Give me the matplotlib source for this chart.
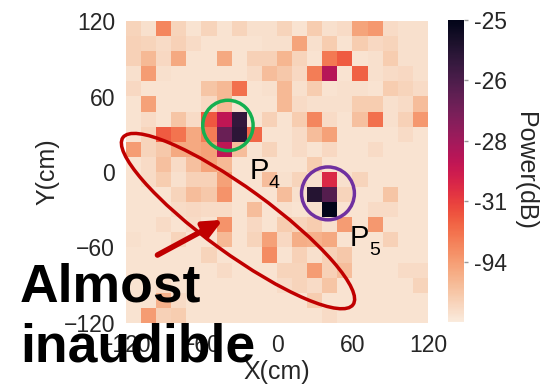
import numpy as np
import matplotlib
matplotlib.use("Agg")
from matplotlib import pyplot as plt
from matplotlib.patches import Circle, Ellipse
import seaborn as sns

# power map, normalised colour level (0 = quiet, 1 = loudest), row 0 = Y 120
levels = [
    [0.06,0.03,0.25,0.06,0.02,0.06,0.02,0.06,0.03,0.03, 0.06,0.02,0.08,0.03,0.04,0.18,0.21,0.04,0.03,0.03],
    [0.07,0.06,0.04,0.07,0.04,0.02,0.02,0.02,0.02,0.03, 0.03,0.18,0.03,0.08,0.02,0.08,0.05,0.06,0.03,0.03],
    [0.07,0.13,0.05,0.17,0.02,0.02,0.17,0.02,0.07,0.07, 0.14,0.06,0.02,0.28,0.34,0.02,0.03,0.08,0.03,0.03],
    [0.03,0.20,0.03,0.02,0.02,0.02,0.02,0.02,0.04,0.12, 0.09,0.05,0.27,0.55,0.02,0.33,0.03,0.04,0.05,0.03],
    [0.05,0.02,0.02,0.02,0.02,0.10,0.13,0.30,0.02,0.03, 0.13,0.03,0.08,0.02,0.03,0.03,0.02,0.08,0.06,0.04],
    [0.02,0.19,0.02,0.02,0.02,0.05,0.13,0.02,0.02,0.02, 0.13,0.04,0.03,0.03,0.03,0.08,0.08,0.03,0.04,0.12],
    [0.02,0.04,0.02,0.10,0.04,0.35,0.53,0.86,0.02,0.07, 0.02,0.08,0.25,0.04,0.02,0.11,0.30,0.03,0.07,0.21],
    [0.02,0.06,0.34,0.29,0.17,0.27,0.73,0.88,0.32,0.02, 0.02,0.04,0.12,0.19,0.02,0.02,0.02,0.02,0.04,0.02],
    [0.20,0.06,0.09,0.17,0.17,0.19,0.53,0.12,0.02,0.06, 0.02,0.04,0.02,0.05,0.02,0.02,0.04,0.02,0.02,0.02],
    [0.02,0.04,0.11,0.04,0.11,0.18,0.13,0.02,0.02,0.02, 0.02,0.02,0.08,0.02,0.02,0.02,0.02,0.02,0.02,0.02],
    [0.02,0.04,0.08,0.03,0.07,0.07,0.19,0.02,0.02,0.12, 0.03,0.06,0.03,0.45,0.03,0.06,0.02,0.02,0.02,0.02],
    [0.02,0.02,0.02,0.06,0.12,0.09,0.22,0.02,0.02,0.02, 0.12,0.03,0.90,0.78,0.06,0.02,0.02,0.10,0.02,0.02],
    [0.02,0.02,0.02,0.04,0.05,0.04,0.04,0.02,0.12,0.02, 0.03,0.02,0.03,1.00,0.02,0.02,0.04,0.04,0.02,0.02],
    [0.02,0.02,0.04,0.02,0.04,0.02,0.22,0.02,0.05,0.02, 0.08,0.06,0.08,0.03,0.20,0.02,0.21,0.02,0.02,0.02],
    [0.03,0.02,0.02,0.06,0.02,0.02,0.13,0.02,0.06,0.19, 0.05,0.16,0.15,0.17,0.02,0.02,0.02,0.07,0.02,0.02],
    [0.02,0.02,0.02,0.02,0.02,0.06,0.02,0.02,0.02,0.24, 0.02,0.07,0.03,0.07,0.09,0.02,0.02,0.02,0.02,0.02],
    [0.02,0.02,0.02,0.02,0.02,0.02,0.04,0.02,0.02,0.02, 0.06,0.06,0.20,0.07,0.12,0.02,0.02,0.02,0.04,0.04],
    [0.02,0.02,0.04,0.02,0.02,0.02,0.02,0.02,0.02,0.02, 0.04,0.06,0.04,0.10,0.02,0.02,0.02,0.02,0.02,0.06],
    [0.02,0.02,0.15,0.04,0.02,0.02,0.02,0.02,0.02,0.02, 0.02,0.02,0.08,0.02,0.02,0.02,0.02,0.02,0.02,0.02],
    [0.02,0.20,0.07,0.08,0.02,0.02,0.02,0.02,0.02,0.02, 0.02,0.02,0.02,0.04,0.02,0.02,0.02,0.02,0.02,0.02],
]
axis_ticks = [-120, -60, 0, 60, 120]
cbar_ticks = [0.2, 0.4, 0.6, 0.8, 1.0]
cbar_labels = ['-94', '-31', '-28', '-26', '-25']

plt.rcParams['font.family'] = ['Liberation Sans', 'DejaVu Sans']
tc = '#262626'

fig = plt.figure(figsize=(5.41, 3.86), dpi=100)
ax = fig.add_axes([126/541, 63/386, 302/541, 302/386])
cax = fig.add_axes([448/541, 64/386, 16/541, 302/386])

cmap = sns.color_palette("rocket_r", as_cmap=True)
im = ax.imshow(np.array(levels), cmap=cmap, vmin=0, vmax=1,
               extent=[-120, 120, -120, 120], origin='upper',
               interpolation='nearest', aspect='auto')
for s in ax.spines.values():
    s.set_visible(False)
ax.set_xticks(axis_ticks)
ax.set_yticks(axis_ticks)
ax.tick_params(length=0, pad=8, labelsize=16.5, colors=tc)
ax.set_xlabel('X(cm)', fontsize=18, color=tc, labelpad=2)
ax.set_ylabel('Y(cm)', fontsize=18, color=tc, labelpad=3)

cb = fig.colorbar(im, cax=cax)
cb.outline.set_visible(False)
cb.set_ticks(cbar_ticks)
cb.set_ticklabels(cbar_labels)
cax.tick_params(length=3, width=1, color='#999999', pad=4, labelsize=16.5, labelcolor=tc)
cb.set_label('Power(dB)', fontsize=18, color=tc, rotation=270, labelpad=22)

# markers around the two sources
ax.add_patch(Circle((-39, 37), 20, fill=False, ec='#14b050', lw=2.5, clip_on=False))
ax.add_patch(Circle((40.5, -17), 21, fill=False, ec='#7030a0', lw=2.5, clip_on=False))
ax.add_patch(Ellipse((-31, -39), 226, 52, angle=-36, fill=False, ec='#c00000', lw=2.5, clip_on=False))
ax.annotate('', xy=(-43, -38), xytext=(-95, -66),
            arrowprops=dict(arrowstyle='-|>,head_length=1.1,head_width=0.5',
                            color='#c00000', lw=4, shrinkA=0, shrinkB=0))

ax.text(-22, 12, 'P', fontsize=21, color='black', va='top')
ax.text(-7, -2, '4', fontsize=14, color='black', va='top')
ax.text(58, -41, 'P', fontsize=21, color='black', va='top')
ax.text(73, -56, '5', fontsize=14, color='black', va='top')

fig.text(20/541, 84/386, 'Almost', fontsize=38.5, fontweight='bold', color='black')
fig.text(20/541, 24/386, 'inaudible', fontsize=38.5, fontweight='bold', color='black')

fig.savefig('out.png', dpi=100)
